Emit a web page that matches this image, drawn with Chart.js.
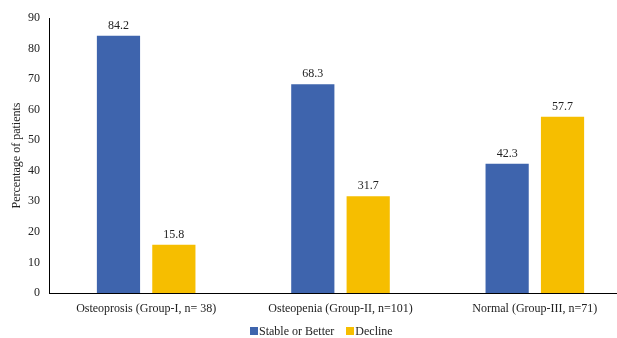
<!DOCTYPE html>
<html>
<head>
<meta charset="utf-8">
<style>
  html, body { margin: 0; padding: 0; background: #fff; overflow: hidden; }
  #wrap { width: 632px; height: 338px; position: relative; }
  #legend { position: absolute; top: 323px; left: 250px; font: 12px 'Liberation Serif', 'Times New Roman', serif; color: #222; white-space: nowrap; line-height: 16px; }
  #legend span.box { display: inline-block; width: 8px; height: 8px; vertical-align: -0px; margin-right: 1px; }
  #legend span.item { margin-right: 12px; }
</style>
<script src="https://cdn.jsdelivr.net/npm/chart.js@4/dist/chart.umd.min.js"></script>
</head>
<body>
<div id="wrap"><canvas id="chart"></canvas><div id="legend"></div></div>
<script>
// data
const categories = ["Osteoprosis (Group-I, n= 38)", "Osteopenia (Group-II, n=101)", "Normal (Group-III, n=71)"];
const seriesNames = ["Stable or Better", "Decline"];
const stableValues = [84.2, 68.3, 42.3];
const declineValues = [15.8, 31.7, 57.7];
const yTicks = [0, 10, 20, 30, 40, 50, 60, 70, 80, 90];
const colors = ["#3E64AD", "#F6BE00"];

const FONT = "'Liberation Serif', 'Times New Roman', serif";
Chart.defaults.font.family = FONT;
Chart.defaults.font.size = 12;
Chart.defaults.color = "#222";

// etiquetas de valor encima de cada barra
const valueLabels = {
  id: "valueLabels",
  afterDatasetsDraw(chart) {
    const ctx = chart.ctx;
    ctx.save();
    ctx.font = "12px " + FONT;
    ctx.fillStyle = "#222";
    ctx.textAlign = "center";
    ctx.textBaseline = "bottom";
    chart.data.datasets.forEach((ds, i) => {
      chart.getDatasetMeta(i).data.forEach((bar, j) => {
        ctx.fillText(ds.data[j].toFixed(1), bar.x, bar.y - 4);
      });
    });
    ctx.restore();
  }
};

const chart = new Chart(document.getElementById("chart"), {
  type: "bar",
  data: {
    labels: categories,
    datasets: [
      { label: seriesNames[0], data: stableValues, backgroundColor: colors[0],
        categoryPercentage: 0.57, barPercentage: 0.78 },
      { label: seriesNames[1], data: declineValues, backgroundColor: colors[1],
        categoryPercentage: 0.57, barPercentage: 0.78 }
    ]
  },
  options: {
    responsive: true,
    maintainAspectRatio: false,
    animation: false,
    layout: { padding: { top: 18, left: 10, right: 0, bottom: 0 } },
    plugins: {
      legend: { display: false },
      tooltip: { enabled: false }
    },
    scales: {
      x: {
        grid: { display: false, drawTicks: false },
        border: { color: "#000", width: 1 },
        ticks: { font: { family: FONT, size: 12 }, color: "#222", padding: 9, maxRotation: 0 },
        afterFit: s => { s.height = 45; }
      },
      y: {
        min: 0, max: 90,
        afterBuildTicks: s => { s.ticks = yTicks.map(v => ({ value: v })); },
        grid: { display: false, drawTicks: false },
        border: { color: "#000", width: 1 },
        ticks: { font: { family: FONT, size: 12 }, color: "#222", padding: 9 },
        title: { display: true, text: "Percentage of patients", font: { family: FONT, size: 12 }, color: "#222", padding: 0 },
        afterFit: s => { s.width = 39; }
      }
    }
  },
  plugins: [valueLabels]
});

// leyenda en HTML
document.getElementById("legend").innerHTML = chart.data.datasets.map(ds =>
  `<span class="item"><span class="box" style="background:${ds.backgroundColor}"></span>${ds.label}</span>`
).join("");
</script>
</body>
</html>
